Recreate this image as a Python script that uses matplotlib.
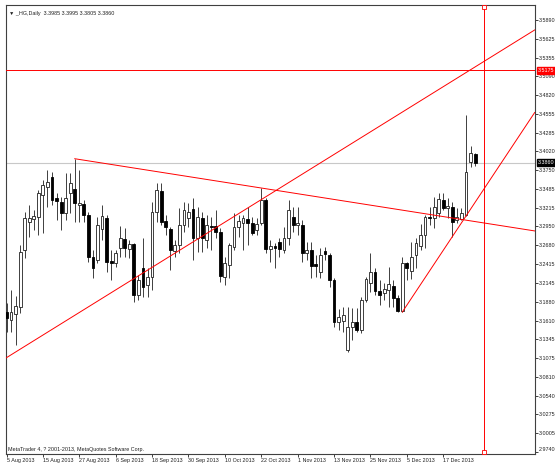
import numpy as np
import matplotlib
matplotlib.use('Agg')
import matplotlib.pyplot as plt
import matplotlib.transforms as mtransforms

plt.rcParams['font.family'] = ['Liberation Sans', 'DejaVu Sans']

# daily candles, _HG (copper), 5 Aug 2013 .. end of Dec 2013
opens = [3.1733, 3.1618, 3.1704, 3.1803, 3.2615, 3.3014, 3.3057, 3.3085, 3.3399, 3.3512,
         3.3655, 3.3356, 3.3299, 3.3142, 3.3427, 3.3484, 3.3256, 3.3270, 3.3114, 3.2515,
         3.2473, 3.2914, 3.3071, 3.2459, 3.2430, 3.2643, 3.2771, 3.2629, 3.2700, 3.1974,
         3.2359, 3.2117, 3.2230, 3.3157, 3.3456, 3.3028, 3.2914, 3.2601, 3.2686, 3.2971,
         3.3071, 3.3199, 3.2786, 3.3071, 3.2757, 3.2957, 3.2957, 3.2872, 3.2230, 3.2402,
         3.2657, 3.2942, 3.2999, 3.3057, 3.2999, 3.2900, 3.2999, 3.3327, 3.2629, 3.2672,
         3.2729, 3.2615, 3.2786, 3.3085, 3.2971, 3.2971, 3.2572, 3.2615, 3.2416, 3.2302,
         3.2601, 3.2544, 3.2188, 3.1590, 3.1604, 3.1191, 3.1518, 3.1590, 3.1476, 3.1903,
         3.2145, 3.2302, 3.2031, 3.2002, 3.2045, 3.2102, 3.1931, 3.1747, 3.2430, 3.2316,
         3.2544, 3.2672, 3.2829, 3.3085, 3.3071, 3.3142, 3.3327, 3.3213, 3.3227, 3.3042,
         3.3057, 3.3114, 3.3868, 3.3985]
highs = [3.1860, 3.2045, 3.1960, 3.2686, 3.3157, 3.3256, 3.3185, 3.3470, 3.3612, 3.3754,
         3.3726, 3.3427, 3.3370, 3.3711, 3.3711, 3.3915, 3.3754, 3.3327, 3.3157, 3.2615,
         3.3085, 3.3256, 3.3114, 3.2615, 3.2615, 3.2957, 3.2928, 3.2757, 3.2714, 3.2259,
         3.2786, 3.2359, 3.3299, 3.3569, 3.3569, 3.3114, 3.2942, 3.2757, 3.3213, 3.3299,
         3.3284, 3.3356, 3.3227, 3.3157, 3.3114, 3.3085, 3.3185, 3.2928, 3.2515, 3.2714,
         3.3142, 3.3114, 3.3114, 3.3227, 3.3085, 3.3071, 3.3498, 3.3356, 3.2757, 3.2714,
         3.2786, 3.2942, 3.3327, 3.3227, 3.3227, 3.3042, 3.2729, 3.2729, 3.2544, 3.2643,
         3.2657, 3.2572, 3.2216, 3.1775, 3.1803, 3.1803, 3.1789, 3.1789, 3.1945, 3.2230,
         3.2572, 3.2359, 3.2188, 3.2145, 3.2373, 3.2188, 3.1974, 3.2515, 3.2445, 3.2729,
         3.2786, 3.2985, 3.3114, 3.3227, 3.3370, 3.3427, 3.3427, 3.3356, 3.3299, 3.3213,
         3.3213, 3.4537, 3.4096, 3.3995]
lows = [3.1448, 3.1448, 3.1262, 3.1718, 3.2501, 3.2800, 3.2900, 3.2829, 3.2857, 3.3227,
        3.3256, 3.3042, 3.2900, 3.3042, 3.3142, 3.3014, 3.3014, 3.3014, 3.2445, 3.2216,
        3.2430, 3.2757, 3.2302, 3.2188, 3.2373, 3.2515, 3.2515, 3.2501, 3.1875, 3.1903,
        3.1945, 3.1945, 3.2045, 3.3014, 3.2971, 3.2829, 3.2330, 3.2515, 3.2572, 3.2872,
        3.2942, 3.2473, 3.2587, 3.2587, 3.2643, 3.2615, 3.2786, 3.2160, 3.2117, 3.2216,
        3.2615, 3.2800, 3.2615, 3.2686, 3.2829, 3.2829, 3.2971, 3.2572, 3.2445, 3.2359,
        3.2515, 3.2572, 3.2686, 3.2872, 3.2829, 3.2445, 3.2473, 3.2216, 3.2230, 3.2216,
        3.2473, 3.2088, 3.1518, 3.1476, 3.1448, 3.1163, 3.1333, 3.1448, 3.1433, 3.1875,
        3.2017, 3.1974, 3.1832, 3.1903, 3.1803, 3.1803, 3.1733, 3.1732, 3.2188, 3.2202,
        3.2359, 3.2615, 3.2643, 3.2971, 3.2928, 3.3085, 3.3185, 3.3071, 3.2800, 3.2999,
        3.3042, 3.3099, 3.3797, 3.3805]
closes = [3.1647, 3.1733, 3.1818, 3.2587, 3.3071, 3.3071, 3.3100, 3.3427, 3.3541, 3.3584,
          3.3327, 3.3313, 3.3142, 3.3356, 3.3569, 3.3284, 3.3284, 3.3114, 3.2515, 3.2359,
          3.2971, 3.3100, 3.2445, 3.2430, 3.2572, 3.2786, 3.2643, 3.2700, 3.1974, 3.2188,
          3.2088, 3.2230, 3.3157, 3.3470, 3.3014, 3.2942, 3.2615, 3.2686, 3.2971, 3.3185,
          3.3157, 3.2786, 3.3085, 3.2786, 3.2971, 3.2942, 3.2872, 3.2245, 3.2430, 3.2686,
          3.2942, 3.3028, 3.3071, 3.2999, 3.2857, 3.2985, 3.3327, 3.2629, 3.2672, 3.2643,
          3.2629, 3.2786, 3.3185, 3.2971, 3.2999, 3.2572, 3.2615, 3.2388, 3.2388, 3.2544,
          3.2558, 3.2188, 3.1590, 3.1661, 3.1690, 3.1518, 3.1590, 3.1476, 3.1903, 3.2202,
          3.2302, 3.2031, 3.1974, 3.2060, 3.2131, 3.1931, 3.1747, 3.2430, 3.2359, 3.2515,
          3.2714, 3.2829, 3.3085, 3.3071, 3.3227, 3.3342, 3.3213, 3.3242, 3.3014, 3.3085,
          3.3142, 3.3726, 3.3996, 3.3860]

date_pos = [0, 8, 16, 24, 32, 40, 48, 56, 64, 72, 80, 88, 96]
date_labels = ['5 Aug 2013', '15 Aug 2013', '27 Aug 2013', '6 Sep 2013', '18 Sep 2013',
               '30 Sep 2013', '10 Oct 2013', '22 Oct 2013', '1 Nov 2013', '13 Nov 2013',
               '25 Nov 2013', '5 Dec 2013', '17 Dec 2013']
price_ticks = [3.5890, 3.5625, 3.5355, 3.5090, 3.4820, 3.4555, 3.4285, 3.4020, 3.3750,
               3.3485, 3.3215, 3.2950, 3.2680, 3.2415, 3.2145, 3.1880, 3.1610, 3.1345,
               3.1075, 3.0810, 3.0540, 3.0275, 3.0005, 2.9740]

# drawn objects: trendlines (bar index, price), level, vertical marker
fall_line = [(15, 3.3915), (56, 3.3498)]
rise_line = [(0, 3.1082), (116, 3.5745)]
short_line = [(87, 3.1732), (101, 3.3099)]
level = 3.5175
bid = 3.3860
vline_bar = 105

o = np.array(opens); h = np.array(highs); l = np.array(lows); c = np.array(closes)
x = np.arange(len(o))
xmin, xmax = -0.22, 116.1
ymin, ymax = 2.9710, 3.6100
fs = 3.9

fig = plt.figure(figsize=(5.55, 4.65), dpi=100)
ax = fig.add_axes([5.5/555, 1-454/465, (534.7-5.5)/555, (454-5.3)/465])
ax.set_xlim(xmin, xmax)
ax.set_ylim(ymin, ymax)

ax.axhline(bid, color='#c8c8c8', lw=0.8, zorder=1)

up = c >= o
ax.vlines(x, l, h, color='#202020', lw=0.6, zorder=2)
ax.bar(x[up], (c-o)[up], bottom=o[up], width=0.62, facecolor='white',
       edgecolor='#202020', lw=0.6, zorder=3)
ax.bar(x[~up], (o-c)[~up], bottom=c[~up], width=0.62, facecolor='black',
       edgecolor='black', lw=0.6, zorder=3)

red = '#ff0000'
def ray(p1, p2):
    k = (p2[1]-p1[1]) / (p2[0]-p1[0])
    ax.plot([p1[0], xmax], [p1[1], p1[1] + k*(xmax-p1[0])], color=red, lw=0.7, zorder=4)

ray(*fall_line)
ray(*short_line)
ax.axline(rise_line[0], rise_line[1], color=red, lw=0.7, zorder=4)
ax.axhline(level, color=red, lw=0.7, zorder=4)
ax.axvline(vline_bar, color=red, lw=0.7, zorder=4)
ax.plot([vline_bar, vline_bar], [ymax - 0.003, ymin + 0.003], 's', ms=2.5,
        mfc='white', mec=red, mew=0.6, clip_on=False, zorder=5)

# axes styling
for s in ax.spines.values():
    s.set_color('#404040')
    s.set_linewidth(0.8)
ax.yaxis.tick_right()
ax.set_yticks(price_ticks)
ax.set_yticklabels(['%.4f' % v for v in price_ticks])
ax.tick_params(axis='y', labelsize=fs, length=2, width=0.6, pad=0.8, colors='#202020')
ax.get_yticklabels()[-1].set_verticalalignment('bottom')
ax.set_xticks(date_pos)
ax.set_xticklabels(date_labels, ha='left')
ax.tick_params(axis='x', labelsize=fs, length=2, width=0.6, pad=1, colors='#202020')

tr = mtransforms.blended_transform_factory(ax.transAxes, ax.transData)
ax.text(1.005, level, '%.4f' % level, transform=tr, ha='left', va='center', fontsize=fs,
        color='white', bbox=dict(facecolor=red, edgecolor=red, pad=0.6), zorder=6)
ax.text(1.005, bid, '%.4f' % bid, transform=tr, ha='left', va='center', fontsize=fs,
        color='white', bbox=dict(facecolor='black', edgecolor='black', pad=0.6), zorder=6)

ax.text(0.006, 0.988, '\u25bc _HG,Daily  3.3985 3.3995 3.3805 3.3860', transform=ax.transAxes,
        ha='left', va='top', fontsize=fs, color='#202020')
ax.text(0.004, 0.004, 'MetaTrader 4, ? 2001-2013, MetaQuotes Software Corp.',
        transform=ax.transAxes, ha='left', va='bottom', fontsize=fs, color='#202020')

fig.savefig('out.png', dpi=100)
